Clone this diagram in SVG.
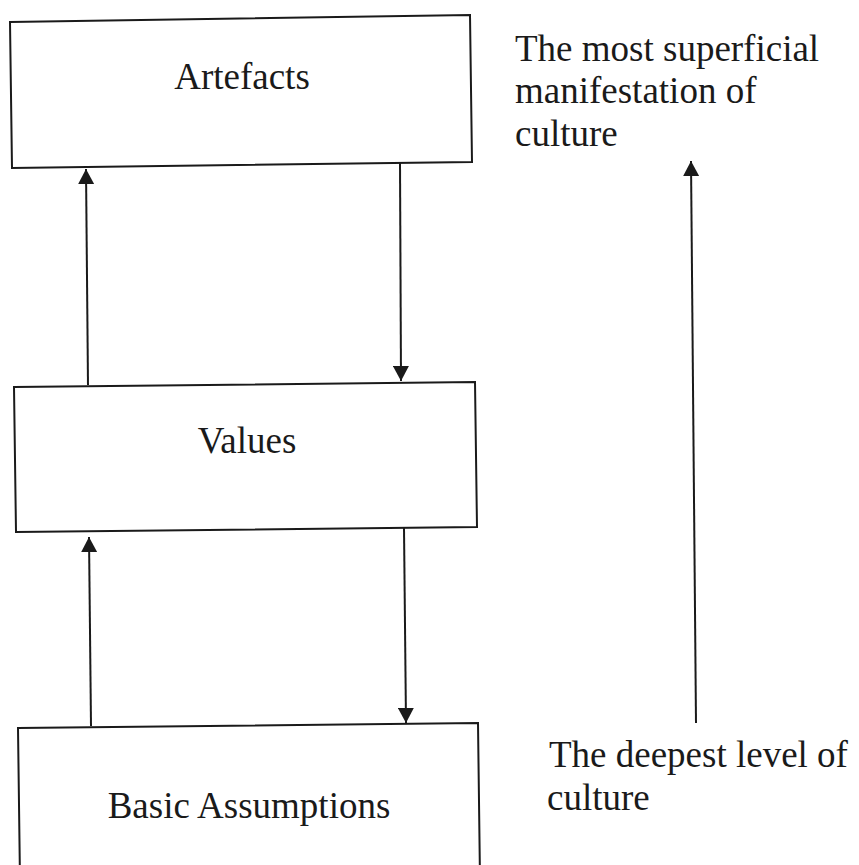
<svg xmlns="http://www.w3.org/2000/svg" width="859" height="865" viewBox="0 0 859 865">
  <style>
    .box { fill: #ffffff; stroke: #1a1a1a; stroke-width: 2; }
    .lbl { font-family: "Liberation Serif", "Times New Roman", serif; font-size: 37px; fill: #1a1a1a; }
    .mid { text-anchor: middle; }
    .edge { fill: none; stroke: #1a1a1a; stroke-width: 2; }
  </style>
  <defs>
    <marker id="head" markerUnits="userSpaceOnUse" markerWidth="16" markerHeight="16" refX="15" refY="8" orient="auto">
      <path d="M0,0 L15,8 L0,16 Z" fill="#1a1a1a"/>
    </marker>
  </defs>
  <rect width="859" height="865" fill="#ffffff"/>

  <g id="artefacts">
    <path class="box" d="M10,22 L470,15 L472,162 L12,168 Z"/>
    <text class="lbl mid" x="242" y="89">Artefacts</text>
  </g>

  <g id="values">
    <path class="box" d="M14,387 L475,382 L477,527 L16,532 Z"/>
    <text class="lbl mid" x="247" y="453">Values</text>
  </g>

  <g id="assumptions">
    <path class="box" d="M18,728 L478,723 L480,880 L20,880 Z"/>
    <text class="lbl mid" x="249" y="818">Basic Assumptions</text>
  </g>

  <g id="note-top">
    <text class="lbl" x="515" y="61">The most superficial</text>
    <text class="lbl" x="515" y="103">manifestation of</text>
    <text class="lbl" x="515" y="146">culture</text>
  </g>

  <g id="note-bottom">
    <text class="lbl" x="549" y="767">The deepest level of</text>
    <text class="lbl" x="547" y="810">culture</text>
  </g>

  <g id="connectors">
    <line class="edge" x1="88" y1="385" x2="86" y2="169" marker-end="url(#head)"/>
    <line class="edge" x1="400" y1="163" x2="401" y2="381" marker-end="url(#head)"/>
    <line class="edge" x1="91" y1="726" x2="89" y2="537" marker-end="url(#head)"/>
    <line class="edge" x1="404" y1="528" x2="406" y2="723" marker-end="url(#head)"/>
    <line class="edge" x1="696" y1="723" x2="691" y2="161" marker-end="url(#head)"/>
  </g>
</svg>
